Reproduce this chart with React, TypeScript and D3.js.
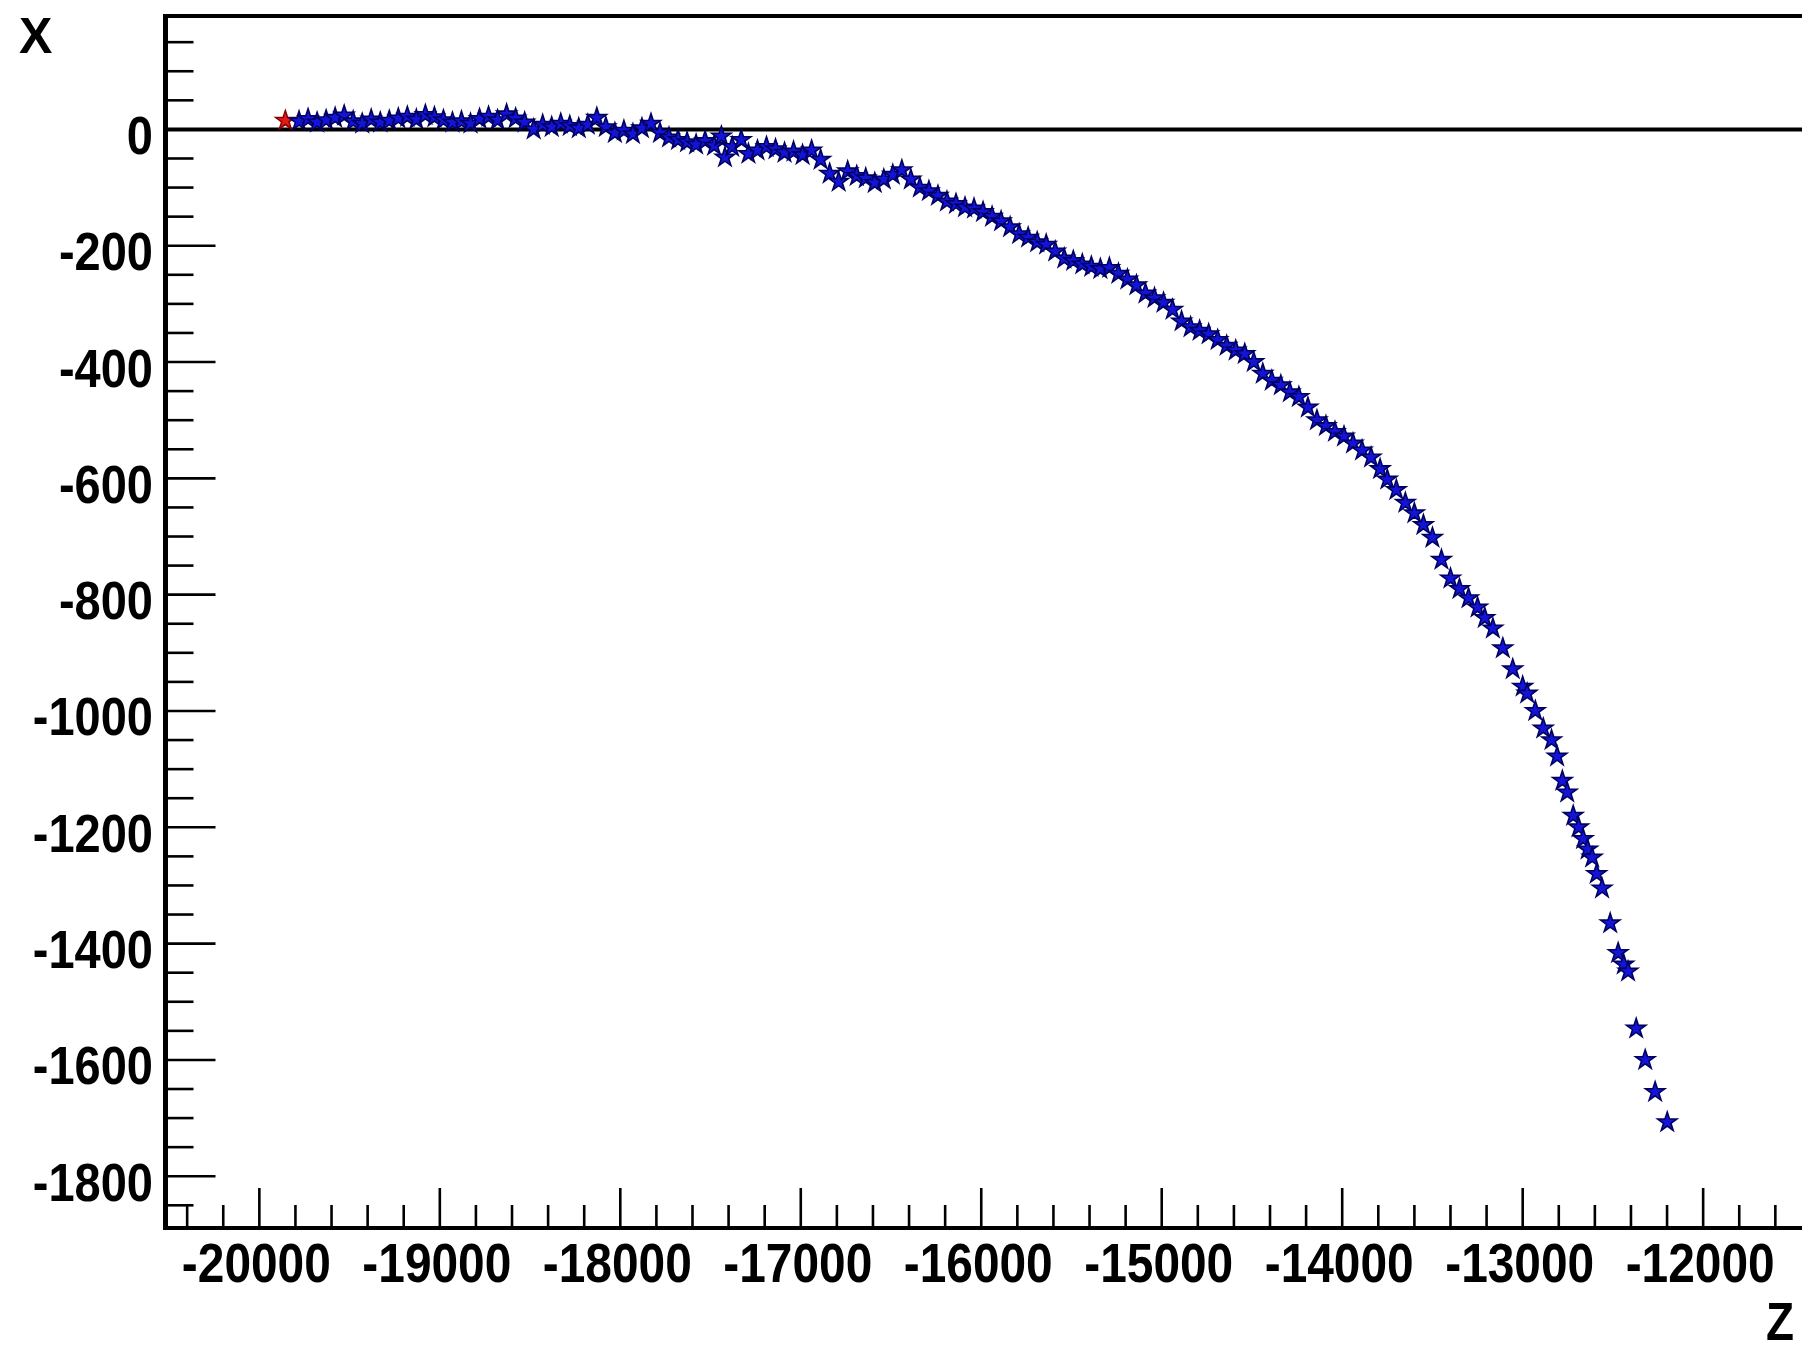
import React from "react";
import * as d3 from "d3";

// ---- data ----
const seedZ = [-19856];
const seedX = [15];

const trackZ = [
  -19780, -19730, -19680, -19630, -19580, -19530, -19480, -19430, -19380, -19330,
  -19280, -19230, -19180, -19130, -19080, -19030, -18980, -18930, -18880, -18830,
  -18780, -18730, -18680, -18630, -18580, -18530,
  -18480, -18430, -18380, -18330, -18280, -18230, -18180, -18130, -18080, -18030,
  -17980, -17930, -17880, -17830, -17780,
  -17730, -17680, -17630, -17580, -17530, -17480, -17440, -17420, -17380, -17330,
  -17290, -17240, -17190, -17140, -17090, -17040, -16990, -16940, -16890,
  -16840, -16790, -16740, -16690, -16640, -16590, -16540, -16490, -16440, -16390,
  -16340, -16290, -16240, -16190, -16140, -16090, -16040, -15990, -15940, -15890,
  -15840, -15790, -15740, -15690, -15640, -15590, -15540, -15490, -15440, -15390,
  -15340, -15290, -15240, -15190, -15140, -15090, -15040, -14990, -14940, -14890,
  -14840, -14790, -14740, -14690, -14640, -14590, -14540, -14490, -14440, -14390,
  -14340, -14290, -14240, -14190, -14140, -14090, -14040, -13990, -13940, -13890,
  -13840, -13790, -13750, -13700, -13650, -13600, -13550, -13500, -13450, -13400,
  -13350, -13300, -13250, -13210, -13165, -13110, -13055, -13000, -12975, -12930,
  -12886, -12840, -12809, -12780, -12753, -12720, -12690, -12665, -12640, -12615,
  -12590, -12560, -12515, -12471, -12440, -12416, -12371, -12321, -12266, -12199,
];
const trackX = [
  14, 18, 12, 16, 20, 24, 14, 10, 17, 12,
  15, 19, 22, 17, 25, 21, 16, 12, 14, 10,
  18, 22, 16, 26, 19, 12,
  0, 8, 4, 10, 6, 2, 8, 20, 4, -6,
  -2, -8, 2, 10, -6,
  -14, -18, -22, -26, -20, -28, -12, -48, -30, -18,
  -42, -36, -30, -34, -40, -38, -44, -36, -52,
  -76, -90, -72, -80, -84, -92, -86, -78, -70, -86,
  -100, -106, -114, -124, -128, -134, -136, -142, -150, -158,
  -168, -180, -186, -194, -198, -210, -222, -226, -232, -236,
  -240, -238, -248, -258, -268, -282, -290, -298, -310, -330,
  -340, -346, -352, -362, -372, -380, -386, -400, -420, -432,
  -440, -452, -460, -478, -500, -510, -520, -528, -540, -552,
  -564, -584, -602, -620, -642, -660, -680, -702, -740, -772,
  -790, -806, -822, -840, -858, -892, -928, -958, -970, -1000,
  -1030, -1050, -1078, -1120, -1140, -1180, -1200, -1220, -1238, -1252,
  -1280, -1305, -1365, -1416, -1436, -1448, -1546, -1600, -1655, -1707,
];

const zMajorTicks = [-20000, -19000, -18000, -17000, -16000, -15000, -14000, -13000, -12000];
const zTickLabels = ["-20000", "-19000", "-18000", "-17000", "-16000", "-15000", "-14000", "-13000", "-12000"];
const xMajorTicks = [0, -200, -400, -600, -800, -1000, -1200, -1400, -1600, -1800];
const xTickLabels = ["0", "-200", "-400", "-600", "-800", "-1000", "-1200", "-1400", "-1600", "-1800"];

const zDomain = [-20520, -11480];
const xDomain = [-1889, 195];

const W = 1802;
const H = 1353;
const frame = { left: 165.5, right: 1797, top: 16, bottom: 1228 };

export default function App() {
  const sx = d3.scaleLinear().domain(zDomain).range([frame.left, frame.right]);
  const sy = d3.scaleLinear().domain(xDomain).range([frame.bottom, frame.top]);

  const zMinor = d3.range(-20400, -11500, 200);
  const xMinor = d3.range(-1850, 151, 50);

  const star = d3.symbol().type(d3.symbolStar).size(115)();
  const font = "'Liberation Sans', Arial, Helvetica, sans-serif";

  return (
    <svg
      width={W}
      height={H}
      style={{ position: "absolute", left: 0, top: 0, background: "#fff" }}
    >
      <rect x={0} y={0} width={W} height={H} fill="#fff" />
      {/* top frame line */}
      <line x1={frame.left} x2={W} y1={frame.top} y2={frame.top} stroke="#000" strokeWidth={4} />
      {/* zero line */}
      <line x1={frame.left} x2={W} y1={sy(0)} y2={sy(0)} stroke="#000" strokeWidth={4} />

      {/* x (Z) axis ticks */}
      {zMinor.map((v) => {
        const major = Math.abs(v % 1000) < 1e-6;
        return (
          <line
            key={"zt" + v}
            x1={sx(v)}
            x2={sx(v)}
            y1={frame.bottom}
            y2={frame.bottom - (major ? 40 : 23)}
            stroke="#000"
            strokeWidth={2.6}
          />
        );
      })}
      {/* y (X) axis ticks */}
      {xMinor.map((v) => {
        const major = Math.abs(v % 200) < 1e-6;
        return (
          <line
            key={"xt" + v}
            x1={frame.left}
            x2={frame.left + (major ? 50 : 28)}
            y1={sy(v)}
            y2={sy(v)}
            stroke="#000"
            strokeWidth={2.6}
          />
        );
      })}

      {/* axes lines */}
      <line x1={frame.left} x2={frame.left} y1={frame.top - 2} y2={frame.bottom + 2} stroke="#000" strokeWidth={5} />
      <line x1={frame.left - 2} x2={W} y1={frame.bottom} y2={frame.bottom} stroke="#000" strokeWidth={4} />

      {/* tick labels */}
      {zMajorTicks.map((v, i) => (
        <g key={"zl" + v} transform={`translate(${sx(v) - 3},1282) scale(0.87,1)`}>
          <text x={0} y={0} textAnchor="middle" fontFamily={font} fontWeight="bold" fontSize={55} fill="#000">
            {zTickLabels[i]}
          </text>
        </g>
      ))}
      {xMajorTicks.map((v, i) => (
        <g key={"xl" + v} transform={`translate(153,${sy(v) + 24.5}) scale(0.87,1)`}>
          <text x={0} y={0} textAnchor="end" fontFamily={font} fontWeight="bold" fontSize={54} fill="#000">
            {xTickLabels[i]}
          </text>
        </g>
      ))}

      {/* axis titles */}
      <text x={19} y={53} fontFamily={font} fontWeight="bold" fontSize={50} fill="#000">
        X
      </text>
      <text
        x={1766}
        y={1340}
        fontFamily={font}
        fontWeight="bold"
        fontSize={54}
        fill="#000"
        textLength={28}
        lengthAdjust="spacingAndGlyphs"
      >
        Z
      </text>

      {/* markers */}
      {seedZ.map((z, i) => (
        <path
          key={"s" + i}
          d={star}
          transform={`translate(${sx(z)},${sy(seedX[i])})`}
          fill="#e01a1a"
          stroke="#8a0000"
          strokeWidth={1.5}
        />
      ))}
      {trackZ.map((z, i) => (
        <path
          key={"p" + i}
          d={star}
          transform={`translate(${sx(z)},${sy(trackX[i])})`}
          fill="#1414d8"
          stroke="#000060"
          strokeWidth={1.6}
        />
      ))}
    </svg>
  );
}
